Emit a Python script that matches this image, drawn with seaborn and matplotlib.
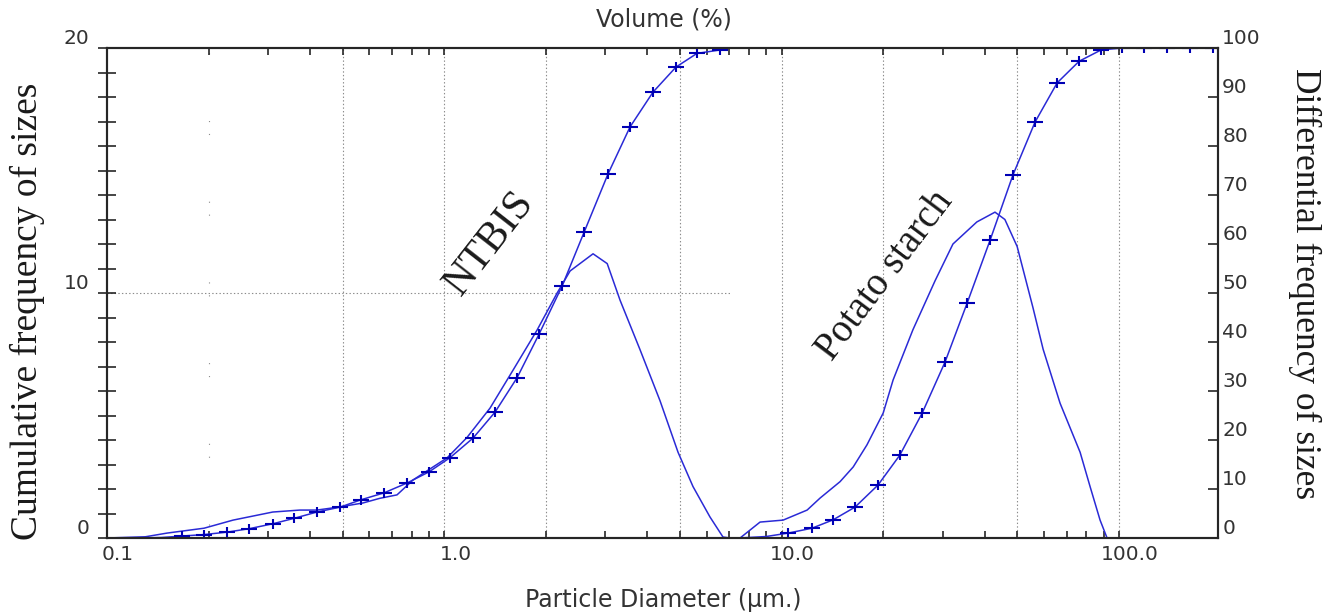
import numpy as np
import matplotlib
matplotlib.use("Agg")
import matplotlib.pyplot as plt
import matplotlib.ticker as mticker
import matplotlib.transforms as mtransforms
from matplotlib.path import Path
import seaborn as sns

# ---------------- data ----------------
# NTBIS cumulative (%), right axis
ntbis_cum_x = [0.10, 0.125, 0.145, 0.167, 0.194, 0.227, 0.264, 0.310, 0.358, 0.419,
               0.491, 0.566, 0.662, 0.774, 0.901, 1.04, 1.217, 1.414, 1.643, 1.909,
               2.234, 2.596, 3.057, 3.553, 4.156, 4.86, 5.61, 6.57, 7.03]
ntbis_cum_y = [0, 0, 0.1, 0.4, 0.7, 1.2, 1.9, 2.9, 4.0, 5.3,
               6.3, 7.8, 9.2, 11.2, 13.5, 16.4, 20.4, 25.7, 32.7, 41.6,
               51.4, 62.4, 74.3, 83.9, 91.0, 96.1, 98.9, 99.6, 100]

# NTBIS differential, left axis
ntbis_diff_x = [0.10, 0.13, 0.1506, 0.194, 0.2364, 0.310, 0.373, 0.419, 0.491, 0.574,
                0.644, 0.724, 0.808, 0.926, 1.019, 1.167, 1.366, 1.60, 1.884, 2.16,
                2.36, 2.76, 3.04, 3.32, 3.80, 4.36, 4.93, 5.46, 6.13, 6.70, 7.03]
ntbis_diff_y = [0, 0.05, 0.2, 0.4, 0.73, 1.06, 1.14, 1.14, 1.27, 1.43,
                1.62, 1.76, 2.37, 2.9, 3.27, 4.1, 5.3, 6.86, 8.49, 10.0,
                10.9, 11.6, 11.2, 9.7, 7.7, 5.6, 3.5, 2.1, 0.86, 0.04, 0]

# Potato starch cumulative (%), right axis
potato_cum_x = [7.03, 7.5, 8.99, 10.45, 12.3, 14.2, 16.5, 19.3, 22.4, 26.1,
                30.5, 35.5, 41.5, 48.5, 56.4, 65.6, 76.2, 88.5, 102, 119,
                139, 162.5, 190, 196.6]
potato_cum_y = [0, 0, 0.3, 1.0, 2.0, 3.7, 6.3, 10.8, 16.9, 25.5,
                35.9, 48.0, 60.8, 74.1, 84.9, 92.9, 97.3, 99.6, 100, 100,
                100, 100, 100, 100]

# Potato starch differential, left axis
potato_diff_x = [7.03, 7.53, 8.63, 10.1, 11.9, 13.0, 14.9, 16.3, 17.9, 20.0,
                 21.4, 24.5, 28.5, 32.2, 37.9, 42.9, 45.9, 49.9, 55.6, 59.6,
                 66.9, 76.7, 82.1, 87.9, 92.2, 196.6]
potato_diff_y = [0, 0, 0.65, 0.73, 1.14, 1.63, 2.3, 2.9, 3.8, 5.1,
                 6.45, 8.5, 10.5, 12.0, 12.9, 13.3, 13.0, 11.9, 9.4, 7.7,
                 5.5, 3.5, 2.1, 0.73, 0, 0]

x_major_ticks = [0.1, 1.0, 10.0, 100.0]
x_tick_labels = ["0.1", "1.0", "10.0", "100.0"]
x_grid = [0.5, 1.0, 2.0, 5.0, 10.0, 20.0, 50.0, 100.0]
left_ticks = [0, 10, 20]
right_ticks = [0, 10, 20, 30, 40, 50, 60, 70, 80, 90, 100]

# ---------------- style ----------------
sns.set_style("white")
plt.rcParams["font.family"] = ["DejaVu Sans"]
plt.rcParams["lines.scale_dashes"] = False

LINE = "#2a2ad6"
MARK = "#0000b4"
GRID = "#8c8c8c"
INK = "#262626"

# wide, flat "+" marker as in the reference
plus_wide = Path([(-1.0, 0.0), (1.0, 0.0), (0.0, -0.7), (0.0, 0.7)],
                 [Path.MOVETO, Path.LINETO, Path.MOVETO, Path.LINETO])

W, H = 1344, 615
fig = plt.figure(figsize=(W / 100, H / 100), dpi=100)
L, R, T, B = 107, 1218, 48, 538
ax = fig.add_axes([L / W, 1 - B / H, (R - L) / W, (B - T) / H])
ax2 = ax.twinx()

# grid
for gx in x_grid:
    ax.axvline(gx, color=GRID, lw=0.8, ls=(0, (1.0, 1.6)), zorder=0)
ax.axvline(0.2, color=GRID, lw=0.8, ls=(0, (0.8, 8.5, 0.8, 48)), zorder=0)
ax.hlines(10, 0.1, 7.03, color=GRID, lw=0.8, ls=(0, (1.0, 1.6)), zorder=0)

# curves
sns.lineplot(x=ntbis_diff_x, y=ntbis_diff_y, ax=ax, color=LINE, linewidth=1.1,
             estimator=None, sort=False)
sns.lineplot(x=potato_diff_x, y=potato_diff_y, ax=ax, color=LINE, linewidth=1.1,
             estimator=None, sort=False)
sns.lineplot(x=ntbis_cum_x, y=ntbis_cum_y, ax=ax2, color=LINE, linewidth=1.1,
             marker=plus_wide, markersize=11, markeredgewidth=1.5, markeredgecolor=MARK,
             markerfacecolor="none", markevery=slice(3, 28), estimator=None, sort=False)
sns.lineplot(x=potato_cum_x, y=potato_cum_y, ax=ax2, color=LINE, linewidth=1.1,
             marker=plus_wide, markersize=11, markeredgewidth=1.5, markeredgecolor=MARK,
             markerfacecolor="none", markevery=slice(3, 23), estimator=None, sort=False)

# axes / scales
ax.set_xscale("log")
ax.set_xlim(0.1, 196.6)
ax.set_ylim(0, 20)
ax2.set_ylim(0, 100)
ax.set_xlabel("")
ax.set_ylabel("")
ax2.set_ylabel("")

ax.xaxis.set_major_locator(mticker.FixedLocator(x_major_ticks))
ax.xaxis.set_major_formatter(mticker.FixedFormatter(x_tick_labels))
ax.xaxis.set_minor_locator(mticker.LogLocator(base=10, subs=np.arange(2, 10), numticks=20))
ax.xaxis.set_minor_formatter(mticker.NullFormatter())
ax.tick_params(axis="x", which="both", direction="in", top=True, bottom=True,
               length=5, width=1.2, color=INK, labelsize=14.5, labelcolor="#333333", pad=5)

ax.yaxis.set_major_locator(mticker.FixedLocator(left_ticks))
ax.yaxis.set_minor_locator(mticker.MultipleLocator(1))
ax.yaxis.set_minor_formatter(mticker.NullFormatter())
ax.tick_params(axis="y", which="both", direction="inout", left=True, right=False,
               length=13, width=1.2, color=INK, labelsize=14.5, labelcolor="#333333", pad=6)

ax2.yaxis.set_major_locator(mticker.FixedLocator(right_ticks))
ax2.tick_params(axis="y", which="both", direction="in", right=True, left=False,
                length=7, width=1.2, color=INK, labelsize=14.5, labelcolor="#333333", pad=3)

plt.setp(ax.get_yticklabels(), va="bottom")
plt.setp(ax2.get_yticklabels(), va="bottom")
offset = mtransforms.ScaledTranslation(8 / 72, 0, fig.dpi_scale_trans)
for lbl in ax.get_xticklabels():
    lbl.set_transform(lbl.get_transform() + offset)

for a in (ax, ax2):
    for s in a.spines.values():
        s.set_visible(True)
        s.set_linewidth(1.5)
        s.set_color(INK)

# texts
fig.text(664 / W, 1 - 20 / H, "Volume (%)", ha="center", va="center",
         fontsize=17, color="#333333")
fig.text(663 / W, 1 - 600 / H, "Particle Diameter (µm.)", ha="center", va="center",
         fontsize=17, color="#333333")
fig.text(27 / W, 1 - 311 / H, "Cumulative frequency of sizes", rotation=90,
         ha="center", va="center", fontsize=27, family="Liberation Serif", color="#1a1a1a")
fig.text(1305 / W, 1 - 284 / H, "Differential frequency of sizes", rotation=270,
         ha="center", va="center", fontsize=25.5, family="Liberation Serif", color="#1a1a1a")

ax.text(1.366, 12.04, "NTBIS", rotation=52, rotation_mode="anchor", ha="center", va="center",
        fontsize=30, family="Liberation Serif", color="#1a1a1a")
ax.text(20.26, 10.7, "Potato starch", rotation=53, rotation_mode="anchor", ha="center",
        va="center", fontsize=28, family="Liberation Serif", color="#1a1a1a")

fig.savefig("out.png", dpi=100, facecolor="white")
